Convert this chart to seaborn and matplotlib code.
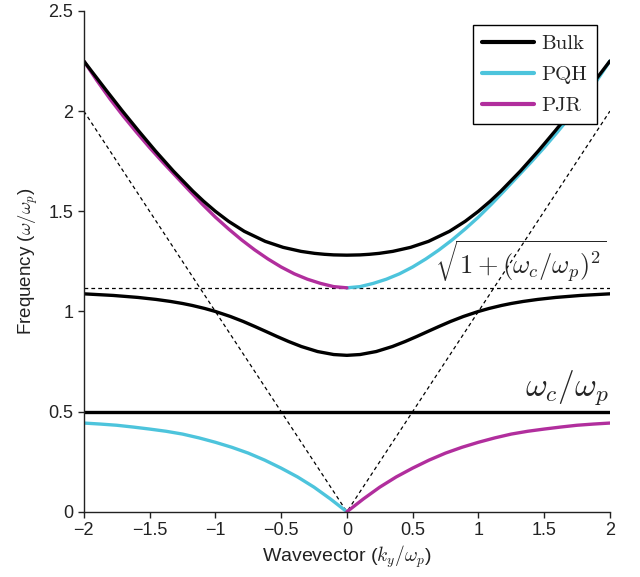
import matplotlib
matplotlib.use('Agg')
import matplotlib.pyplot as plt
import pandas as pd
import seaborn as sns

# values (k = k_y/w_p, w = w/w_p)
k_bulk_up = [-2.0, -1.942, -1.825, -1.706, -1.582, -1.454, -1.318, -1.17, -1.089, -1.0,
             -0.8995, -0.78, -0.621, -0.4845, -0.349, -0.245, -0.17, -0.1, 0.0,
             0.1, 0.17, 0.245, 0.349, 0.4845, 0.621, 0.78, 0.8995, 1.0, 1.089,
             1.17, 1.318, 1.454, 1.582, 1.706, 1.825, 1.942, 2.0]
bulk_upper = [2.25, 2.2, 2.1, 2.0, 1.9, 1.8, 1.7, 1.6, 1.55, 1.5,
              1.45, 1.4, 1.35, 1.32, 1.30, 1.29, 1.2853, 1.2824, 1.281,
              1.2824, 1.2853, 1.29, 1.30, 1.32, 1.35, 1.4, 1.45, 1.5, 1.55,
              1.6, 1.7, 1.8, 1.9, 2.0, 2.1, 2.2, 2.25]

k_bulk_mid = [-2.0, -1.777, -1.588, -1.45, -1.341, -1.251, -1.176, -1.081, -1.0, -0.886,
              -0.788, -0.70, -0.615, -0.531, -0.443, -0.346, -0.223, -0.1, 0.0,
              0.1, 0.223, 0.346, 0.443, 0.531, 0.615, 0.70, 0.788, 0.886, 1.0,
              1.081, 1.176, 1.251, 1.341, 1.45, 1.588, 1.777, 2.0]
bulk_middle = [1.088, 1.08, 1.07, 1.06, 1.05, 1.04, 1.03, 1.015, 1.0, 0.975,
               0.95, 0.925, 0.9, 0.875, 0.85, 0.825, 0.8, 0.785, 0.781,
               0.785, 0.8, 0.825, 0.85, 0.875, 0.9, 0.925, 0.95, 0.975, 1.0,
               1.015, 1.03, 1.04, 1.05, 1.06, 1.07, 1.08, 1.088]

k_flat = [-2.0, 2.0]
bulk_flat = [0.5, 0.5]

k_up_right = [0.0, 0.1, 0.2, 0.3, 0.4, 0.5, 0.6, 0.7, 0.8, 0.9, 1.0,
              1.1, 1.2, 1.3, 1.4, 1.5, 1.6, 1.7, 1.8, 1.9, 2.0]
pqh_upper = [1.118, 1.124, 1.14, 1.161, 1.188, 1.222, 1.262, 1.307, 1.357, 1.412, 1.471,
             1.536, 1.605, 1.675, 1.745, 1.818, 1.895, 1.975, 2.06, 2.152, 2.25]
k_up_left = [-2.0, -1.9, -1.8, -1.7, -1.6, -1.5, -1.4, -1.3, -1.2, -1.1, -1.0,
             -0.9, -0.8, -0.7, -0.6, -0.5, -0.4, -0.3, -0.2, -0.1, 0.0]
pjr_upper = [2.25, 2.152, 2.06, 1.975, 1.895, 1.818, 1.745, 1.675, 1.605, 1.536, 1.471,
             1.412, 1.357, 1.307, 1.262, 1.222, 1.188, 1.161, 1.14, 1.124, 1.118]

k_low_left = [-2.0, -1.875, -1.75, -1.625, -1.5, -1.375, -1.25, -1.125, -1.0,
              -0.875, -0.75, -0.625, -0.5, -0.375, -0.25, -0.125, 0.0]
pqh_lower = [0.443, 0.438, 0.432, 0.423, 0.413, 0.402, 0.388, 0.369, 0.347,
             0.322, 0.293, 0.258, 0.218, 0.174, 0.123, 0.064, 0.0]
k_low_right = [0.0, 0.125, 0.25, 0.375, 0.5, 0.625, 0.75, 0.875, 1.0,
               1.125, 1.25, 1.375, 1.5, 1.625, 1.75, 1.875, 2.0]
pjr_lower = [0.0, 0.064, 0.123, 0.174, 0.218, 0.258, 0.293, 0.322, 0.347,
             0.369, 0.388, 0.402, 0.413, 0.423, 0.432, 0.438, 0.443]

# light line k = w and hybrid frequency
k_light = [-2.0, 0.0, 2.0]
w_light = [2.0, 0.0, 2.0]
k_hyb = [-2.0, 2.0]
w_hyb = [1.118, 1.118]

sns.set_style('ticks')
plt.rcParams['font.family'] = ['Liberation Sans', 'DejaVu Sans']
plt.rcParams['mathtext.fontset'] = 'cm'
plt.rcParams['axes.unicode_minus'] = True

c_bulk = 'black'
c_pqh = '#4dc4dc'
c_pjr = '#b12e9d'
lw = 2.4

fig = plt.figure(figsize=(6.4, 5.77), dpi=100)
ax = fig.add_axes([0.131, 0.113, 0.822, 0.868])

def draw(k, w, color, label=None, **kw):
    df = pd.DataFrame({'k': k, 'w': w})
    sns.lineplot(data=df, x='k', y='w', ax=ax, color=color, label=label,
                 sort=False, estimator=None, **kw)

# dashed guides
draw(k_light, w_light, 'black', lw=0.9, linestyle=(0, (3, 2.5)))
draw(k_hyb, w_hyb, 'black', lw=0.9, linestyle=(0, (3, 2.5)))

# edge modes
draw(k_up_right, pqh_upper, c_pqh, lw=lw)
draw(k_low_left, pqh_lower, c_pqh, lw=lw)
draw(k_up_left, pjr_upper, c_pjr, lw=lw)
draw(k_low_right, pjr_lower, c_pjr, lw=lw)

# bulk modes
draw(k_bulk_up, bulk_upper, c_bulk, lw=lw)
draw(k_bulk_mid, bulk_middle, c_bulk, lw=lw)
draw(k_flat, bulk_flat, c_bulk, lw=lw)

ax.text(1.975, 1.13, r'$\sqrt{1+(\omega_c/\omega_p)^2}$', fontsize=19,
        ha='right', va='bottom')
ax.text(1.99, 0.525, r'$\omega_c/\omega_p$', fontsize=24, ha='right', va='bottom')

ax.set_xlim(-2, 2)
ax.set_ylim(0, 2.5)
ax.set_xticks([-2, -1.5, -1, -0.5, 0, 0.5, 1, 1.5, 2])
ax.set_xticklabels(['\u22122', '\u22121.5', '\u22121', '\u22120.5', '0', '0.5', '1', '1.5', '2'])
ax.set_yticks([0, 0.5, 1, 1.5, 2, 2.5])
ax.set_yticklabels(['0', '0.5', '1', '1.5', '2', '2.5'])
ax.tick_params(direction='out', length=4, width=1, labelsize=13, colors='#222222')
ax.set_xlabel(r'Wavevector ($k_y/\omega_p$)', fontsize=14, color='#222222', labelpad=3)
ax.set_ylabel(r'Frequency ($\omega/\omega_p$)', fontsize=13.5, color='#222222', labelpad=6)
sns.despine(ax=ax)
for s in ['left', 'bottom']:
    ax.spines[s].set_linewidth(1)
    ax.spines[s].set_color('#222222')

# legend with one entry per mode family
handles = [
    plt.Line2D([], [], color=c_bulk, lw=3),
    plt.Line2D([], [], color=c_pqh, lw=3),
    plt.Line2D([], [], color=c_pjr, lw=3),
]
leg = ax.legend(handles, ['Bulk', 'PQH', 'PJR'], loc='upper right',
                bbox_to_anchor=(0.975, 0.972), borderaxespad=0,
                fancybox=False, framealpha=1, edgecolor='black',
                handlelength=2.5, handletextpad=0.35, borderpad=0.45,
                labelspacing=0.6, prop={'family': 'cmr10', 'size': 15})
leg.get_frame().set_linewidth(1)

fig.savefig('out.png', dpi=100)
